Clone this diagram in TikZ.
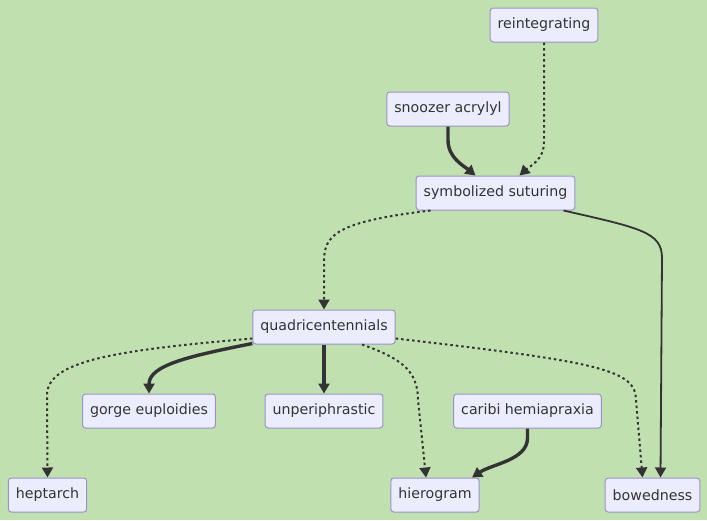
\documentclass[tikz,border=0pt]{standalone}
\usepackage{fontspec}
\setmainfont{DejaVu Sans}
\usetikzlibrary{arrows.meta}
\definecolor{bgreen}{RGB}{193,224,176}
\definecolor{boxfill}{RGB}{236,236,255}
\definecolor{boxline}{RGB}{155,145,200}
\definecolor{edgegray}{RGB}{51,51,51}

\begin{document}
\begin{tikzpicture}[x=1pt,y=-1pt,
  box/.style={draw=boxline,fill=boxfill,rounded corners=3pt,line width=1pt,
    minimum height=34pt,inner xsep=7.5pt,text=edgegray,
    font=\fontsize{14.2}{16}\selectfont},
  edge/.style={draw=edgegray,line width=1.8pt,-{Triangle[length=10pt,width=11pt]}},
  boldedge/.style={edge,line width=3.4pt},
  dotedge/.style={edge,line width=2pt,dash pattern=on 2.5pt off 3pt}]
% Background
\fill[bgreen] (0,0) rectangle (707,520);
\useasboundingbox (0,0) rectangle (707,520);

% Nodes
\node[box] (reint) at (544,25) {reintegrating};
\node[box] (snooz) at (448,109) {snoozer acrylyl};
\node[box] (sym) at (495.5,193) {symbolized suturing};
\node[box] (quad) at (324,327) {quadricentennials};
\node[box] (gorge) at (149,411) {gorge euploidies};
\node[box] (unper) at (324,411) {unperiphrastic};
\node[box] (caribi) at (527.5,411) {caribi hemiapraxia};
\node[box] (hept) at (47.5,495) {heptarch};
\node[box] (hier) at (435,495) {hierogram};
\node[box] (bowed) at (652.5,495) {bowedness};

% Into symbolized suturing
\draw[dotedge] (reint.south) -- (544,142) .. controls (544,160) and (530,166) .. ([xshift=24pt]sym.north);
\draw[boldedge] (snooz.south) -- (448,140) .. controls (448,158) and (464,166) .. ([xshift=-20pt]sym.north);

% Out of symbolized suturing
\draw[dotedge] ([xshift=-65pt]sym.south) .. controls (335,222) and (324,235) .. (324,262) -- (quad.north);
\draw[edge] ([xshift=68pt]sym.south) .. controls (640,228) and (662,232) .. (662,258) -- ([xshift=8pt]bowed.north);

% Out of quadricentennials
\draw[boldedge] ([yshift=1pt]quad.south west) .. controls (190,356) and (149,365) .. (gorge.north);
\draw[boldedge] (quad.south) -- (unper.north);
\draw[dotedge] ([yshift=6pt]quad.south west) .. controls (120,350) and (47,360) .. (47,395) -- (hept.north);
\draw[dotedge] ([xshift=38pt]quad.south) .. controls (400,358) and (418,370) .. (418,400) -- ([xshift=-9pt]hier.north);
\draw[dotedge] ([yshift=6pt]quad.south east) .. controls (600,362) and (636,370) .. (636,400) -- ([xshift=-10pt]bowed.north);

% Into hierogram
\draw[boldedge] (caribi.south) -- (527.5,438) .. controls (527.5,460) and (492,464) .. ([xshift=37pt]hier.north);
\end{tikzpicture}
\end{document}
